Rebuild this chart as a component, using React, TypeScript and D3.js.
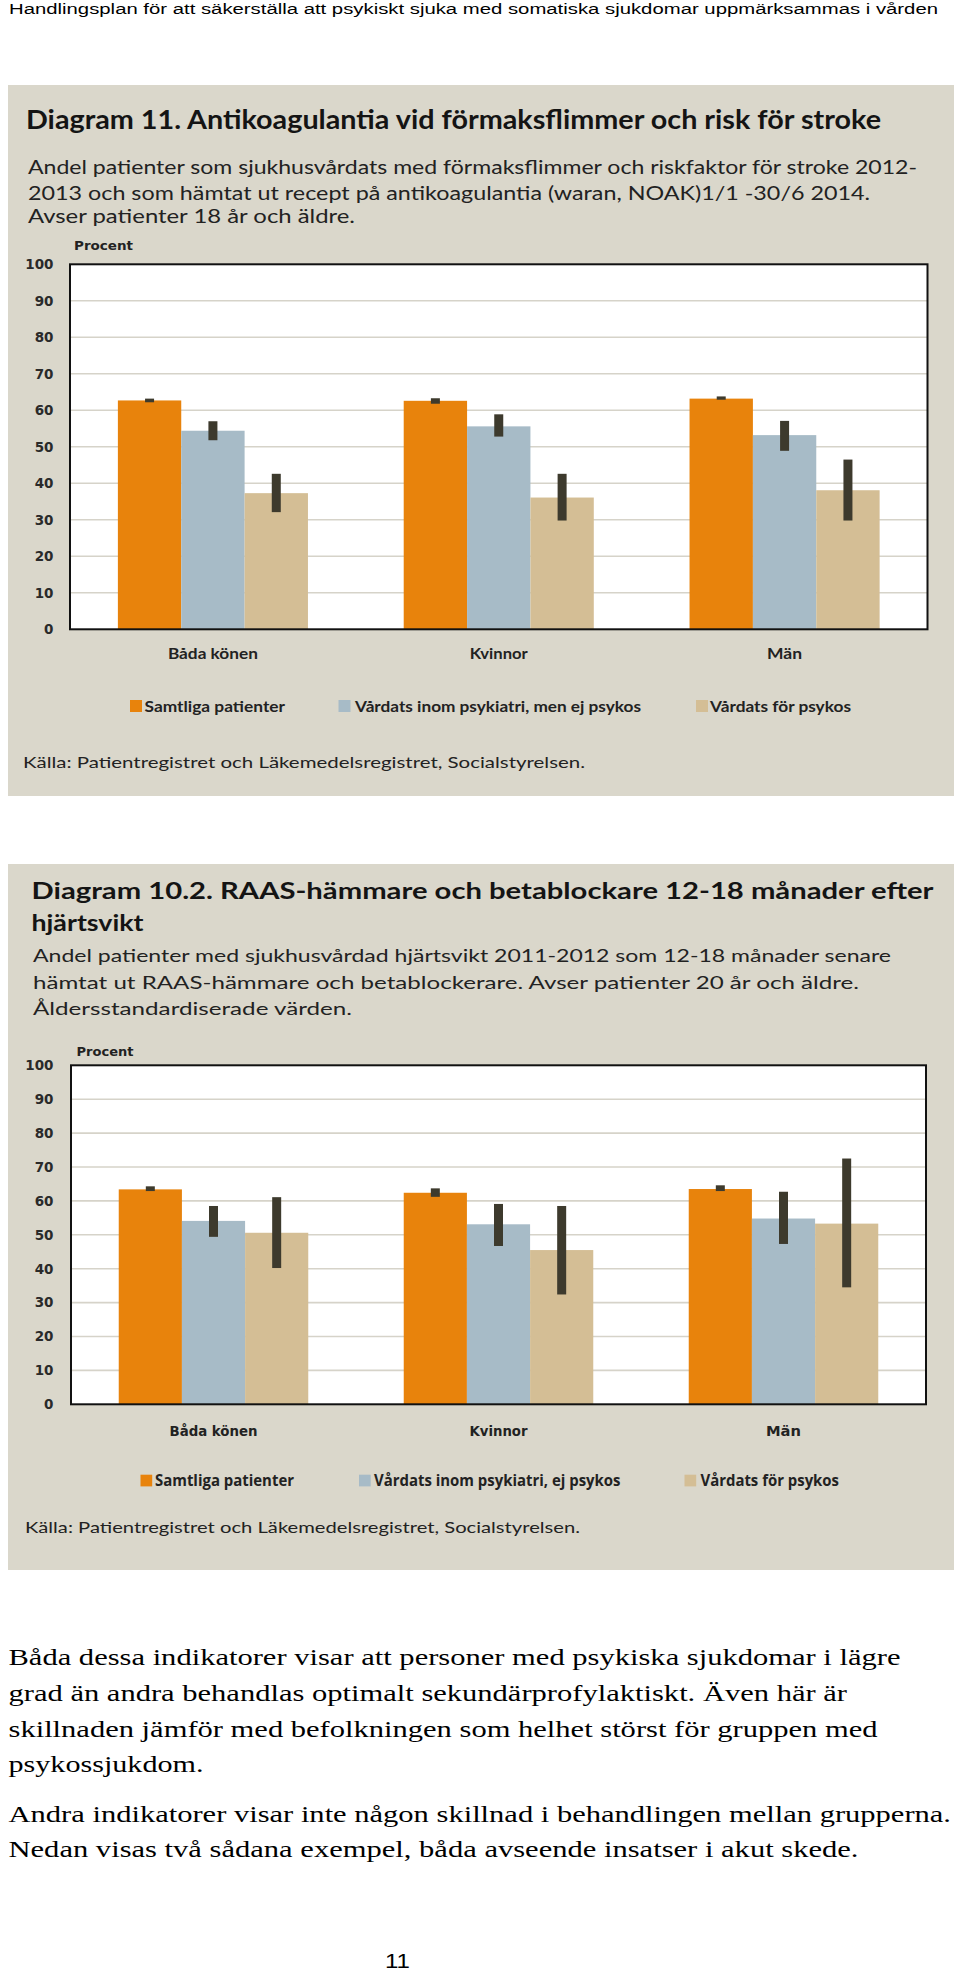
import React from "react";
import * as d3 from "d3";

// ---------- data ----------
const categories = ["Båda könen", "Kvinnor", "Män"];
const seriesKeys = ["samtliga", "psykiatri", "psykos"];
const legendLabels1 = ["Samtliga patienter", "Vårdats inom psykiatri, men ej psykos", "Vårdats för psykos"];
const legendLabels2 = ["Samtliga patienter", "Vårdats inom psykiatri, ej psykos", "Vårdats för psykos"];
const yTicks = [0, 10, 20, 30, 40, 50, 60, 70, 80, 90, 100];
const seriesColors = ["#E8830C", "#A7BBC7", "#D4BE95"];

// Diagram 11
const c1Samtliga = [62.7, 62.6, 63.2];
const c1SamtligaLo = [62.2, 61.8, 62.9];
const c1SamtligaHi = [63.2, 63.3, 63.8];
const c1Psykiatri = [54.4, 55.6, 53.2];
const c1PsykiatriLo = [51.8, 52.8, 48.9];
const c1PsykiatriHi = [57.0, 58.9, 57.1];
const c1Psykos = [37.3, 36.1, 38.1];
const c1PsykosLo = [32.1, 29.8, 29.8];
const c1PsykosHi = [42.6, 42.6, 46.5];

// Diagram 10.2
const c2Samtliga = [63.4, 62.4, 63.5];
const c2SamtligaLo = [62.9, 61.2, 62.9];
const c2SamtligaHi = [64.3, 63.7, 64.6];
const c2Psykiatri = [54.1, 53.1, 54.8];
const c2PsykiatriLo = [49.4, 46.7, 47.3];
const c2PsykiatriHi = [58.5, 59.1, 62.7];
const c2Psykos = [50.6, 45.5, 53.3];
const c2PsykosLo = [40.2, 32.4, 34.5];
const c2PsykosHi = [61.1, 58.5, 72.5];

const chart1Series = [
  { key: "samtliga", values: c1Samtliga, lo: c1SamtligaLo, hi: c1SamtligaHi },
  { key: "psykiatri", values: c1Psykiatri, lo: c1PsykiatriLo, hi: c1PsykiatriHi },
  { key: "psykos", values: c1Psykos, lo: c1PsykosLo, hi: c1PsykosHi },
];
const chart2Series = [
  { key: "samtliga", values: c2Samtliga, lo: c2SamtligaLo, hi: c2SamtligaHi },
  { key: "psykiatri", values: c2Psykiatri, lo: c2PsykiatriLo, hi: c2PsykiatriHi },
  { key: "psykos", values: c2Psykos, lo: c2PsykosLo, hi: c2PsykosHi },
];

const headerText = "Handlingsplan för att säkerställa att psykiskt sjuka med somatiska sjukdomar uppmärksammas i vården";
const title1 = ["Diagram 11. Antikoagulantia vid förmaksflimmer och risk för stroke"];
const subtitle1 = [
  "Andel patienter som sjukhusvårdats med förmaksflimmer och riskfaktor för stroke 2012-",
  "2013 och som hämtat ut recept på antikoagulantia (waran, NOAK)1/1 -30/6 2014.",
  "Avser patienter 18 år och äldre.",
];
const title2 = ["Diagram 10.2. RAAS-hämmare och betablockare 12-18 månader efter", "hjärtsvikt"];
const subtitle2 = [
  "Andel patienter med sjukhusvårdad hjärtsvikt 2011-2012 som 12-18 månader senare",
  "hämtat ut RAAS-hämmare och betablockerare. Avser patienter 20 år och äldre.",
  "Åldersstandardiserade värden.",
];
const sourceText = "Källa: Patientregistret och Läkemedelsregistret, Socialstyrelsen.";
const bodyLines = [
  "Båda dessa indikatorer visar att personer med psykiska sjukdomar i lägre",
  "grad än andra behandlas optimalt sekundärprofylaktiskt. Även här är",
  "skillnaden jämför med befolkningen som helhet störst för gruppen med",
  "psykossjukdom.",
  "Andra indikatorer visar inte någon skillnad i behandlingen mellan grupperna.",
  "Nedan visas två sådana exempel, båda avseende insatser i akut skede.",
];
const pageNumber = "11";

// ---------- layout ----------
const PANEL = "#DAD7CB";
const GRID = "#D6D3C9";
const ERR = "#3D3A2D";
const TXT = "#1c1c1c";
const GOTHIC = "Lato, 'Open Sans', sans-serif";
const TAHOMA = "'DejaVu Sans', Verdana, sans-serif";
const SERIF = "'Liberation Serif', 'Times New Roman', Times, serif";

const layout1 = {
  panel: { x: 8, y: 85, w: 946, h: 711 },
  titleLines: [{ x: 26, y: 128.5, w: 855 }],
  titleSize: 26,
  subLines: [
    { x: 28, y: 173.5, w: 889 },
    { x: 28, y: 199.5, w: 842 },
    { x: 28, y: 223, w: 327 },
  ],
  subSize: 18.5,
  procent: { x: 74, y: 250, w: 59 },
  plot: { left: 70, right: 927.5, top: 264.3, bottom: 629.3 },
  xLabelY: 658.5,
  xLabelW: [90, 58, 35],
  xLabelFamily: GOTHIC,
  legend: [
    { sx: 130, tx: 144.5, tw: 140.5 },
    { sx: 338.5, tx: 355, tw: 286 },
    { sx: 696, tx: 710, tw: 141 },
  ],
  legendY: 700,
  legendSq: 12,
  legendSize: 15,
  legendFamily: GOTHIC,
  source: { x: 23, y: 767.5, w: 562 },
};

const layout2 = {
  panel: { x: 8, y: 864, w: 946, h: 706 },
  titleLines: [
    { x: 31.5, y: 898.5, w: 902 },
    { x: 31.5, y: 930.5, w: 112 },
  ],
  titleSize: 23.5,
  subLines: [
    { x: 33, y: 962, w: 858 },
    { x: 33, y: 988.5, w: 826 },
    { x: 33, y: 1015, w: 319 },
  ],
  subSize: 17.5,
  procent: { x: 76.5, y: 1056, w: 57 },
  plot: { left: 71, right: 926, top: 1065.3, bottom: 1404.3 },
  xLabelY: 1436,
  xLabelW: [88, 58, 35],
  xLabelFamily: TAHOMA,
  legend: [
    { sx: 140.5, tx: 155, tw: 139 },
    { sx: 359, tx: 374, tw: 246.5 },
    { sx: 684.5, tx: 700.5, tw: 138.5 },
  ],
  legendY: 1474.7,
  legendSq: 11.7,
  legendSize: 15.5,
  legendFamily: "'Open Sans', Lato, sans-serif",
  source: { x: 25, y: 1533, w: 555 },
};

function T(props: any) {
  const { x, y, w, size, family, weight, fill, anchor, children } = props;
  return (
    <text
      x={x}
      y={y}
      fontSize={size}
      fontFamily={family}
      fontWeight={weight || 400}
      fill={fill || TXT}
      textAnchor={anchor || "start"}
      textLength={w}
      lengthAdjust="spacingAndGlyphs"
    >
      {children}
    </text>
  );
}

function Chart({ L, series, legendLabels, titles, subtitles }: any) {
  const { plot } = L;
  const y = d3.scaleLinear().domain([0, 100]).range([plot.bottom, plot.top]);
  const x0 = d3
    .scaleBand<string>()
    .domain(categories)
    .range([plot.left, plot.right])
    .paddingInner(0.335)
    .paddingOuter(0.1675);
  const x1 = d3.scaleBand<string>().domain(seriesKeys).range([0, x0.bandwidth()]).padding(0);
  const errW = 9;
  const color = d3.scaleOrdinal<string, string>().domain(seriesKeys).range(seriesColors);

  return (
    <g>
      <rect x={L.panel.x} y={L.panel.y} width={L.panel.w} height={L.panel.h} fill={PANEL} />
      {titles.map((t: string, i: number) => (
        <T key={"t" + i} x={L.titleLines[i].x} y={L.titleLines[i].y} w={L.titleLines[i].w} size={L.titleSize} family={GOTHIC} weight={700} fill="#141414">
          {t}
        </T>
      ))}
      {subtitles.map((t: string, i: number) => (
        <T key={"s" + i} x={L.subLines[i].x} y={L.subLines[i].y} w={L.subLines[i].w} size={L.subSize} family={GOTHIC} weight={400} fill="#222">
          {t}
        </T>
      ))}
      <T x={L.procent.x} y={L.procent.y} w={L.procent.w} size={13} family={TAHOMA} weight={700} fill="#222">
        Procent
      </T>
      {/* plot background */}
      <rect x={plot.left} y={plot.top} width={plot.right - plot.left} height={plot.bottom - plot.top} fill="#FFFFFF" />
      {yTicks
        .filter((t) => t > 0 && t < 100)
        .map((t) => (
          <line key={"g" + t} x1={plot.left} x2={plot.right} y1={y(t)} y2={y(t)} stroke={GRID} strokeWidth={1.6} />
        ))}
      {yTicks.map((t) => (
        <text
          key={"yt" + t}
          x={53.5}
          y={y(t)}
          dy="0.36em"
          textAnchor="end"
          fontSize={13.5}
          fontFamily={TAHOMA}
          fontWeight={700}
          fill="#2a2a2a"
        >
          {t}
        </text>
      ))}
      {/* bars */}
      {series.map((s: any) =>
        categories.map((c, i) => (
          <rect
            key={s.key + c}
            x={(x0(c) as number) + (x1(s.key) as number)}
            y={y(s.values[i])}
            width={x1.bandwidth()}
            height={y(0) - y(s.values[i])}
            fill={color(s.key)}
          />
        ))
      )}
      {/* error bars */}
      {series.map((s: any) =>
        categories.map((c, i) => (
          <rect
            key={"e" + s.key + c}
            x={(x0(c) as number) + (x1(s.key) as number) + x1.bandwidth() / 2 - errW / 2}
            y={y(s.hi[i])}
            width={errW}
            height={y(s.lo[i]) - y(s.hi[i])}
            fill={ERR}
          />
        ))
      )}
      {/* frame */}
      <rect
        x={plot.left}
        y={plot.top}
        width={plot.right - plot.left}
        height={plot.bottom - plot.top}
        fill="none"
        stroke="#111"
        strokeWidth={2}
      />
      {categories.map((c, i) => (
        <T
          key={"xl" + c}
          x={(x0(c) as number) + x0.bandwidth() / 2}
          y={L.xLabelY}
          w={L.xLabelW[i]}
          size={14.5}
          family={L.xLabelFamily}
          weight={700}
          fill="#222"
          anchor="middle"
        >
          {c}
        </T>
      ))}
      {/* legend */}
      {legendLabels.map((lab: string, i: number) => (
        <g key={"lg" + i}>
          <rect x={L.legend[i].sx} y={L.legendY} width={L.legendSq} height={L.legendSq} fill={seriesColors[i]} />
          <T x={L.legend[i].tx} y={L.legendY + L.legendSq - 0.5} w={L.legend[i].tw} size={L.legendSize} family={L.legendFamily} weight={700} fill="#222">
            {lab}
          </T>
        </g>
      ))}
      <T x={L.source.x} y={L.source.y} w={L.source.w} size={16} family={GOTHIC} weight={400} fill="#222">
        {sourceText}
      </T>
    </g>
  );
}

const bodyLayout = [
  { y: 1665, w: 892 },
  { y: 1700.5, w: 838.5 },
  { y: 1736.5, w: 869 },
  { y: 1772, w: 195 },
  { y: 1821.7, w: 942.5 },
  { y: 1857.3, w: 850 },
];

export default function App() {
  return (
    <svg
      width={960}
      height={1973}
      viewBox="0 0 960 1973"
      style={{ position: "absolute", left: 0, top: 0, background: "#fff" }}
    >
      <rect x={0} y={0} width={960} height={1973} fill="#fff" />
      <T x={9} y={14} w={929} size={14} family="'Liberation Sans', Arial, sans-serif" fill="#000">
        {headerText}
      </T>
      <Chart L={layout1} series={chart1Series} legendLabels={legendLabels1} titles={title1} subtitles={subtitle1} />
      <Chart L={layout2} series={chart2Series} legendLabels={legendLabels2} titles={title2} subtitles={subtitle2} />
      {bodyLines.map((line, i) => (
        <T key={"b" + i} x={8.5} y={bodyLayout[i].y} w={bodyLayout[i].w} size={23} family={SERIF} fill="#000">
          {line}
        </T>
      ))}
      <T x={385} y={1968} w={25} size={20} family="'Liberation Sans', Arial, sans-serif" fill="#000">
        {pageNumber}
      </T>
    </svg>
  );
}
